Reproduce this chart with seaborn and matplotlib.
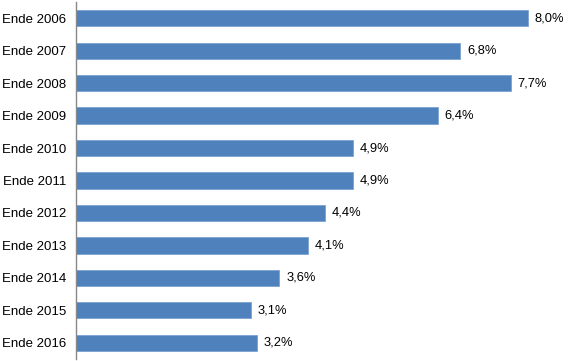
import matplotlib
matplotlib.use("Agg")
import matplotlib.pyplot as plt
import seaborn as sns
import pandas as pd

# Werte aus dem Diagramm
jahre = ["Ende 2006", "Ende 2007", "Ende 2008", "Ende 2009", "Ende 2010", "Ende 2011",
         "Ende 2012", "Ende 2013", "Ende 2014", "Ende 2015", "Ende 2016"]
werte = [8.0, 6.8, 7.7, 6.4, 4.9, 4.9, 4.4, 4.1, 3.6, 3.1, 3.2]

df = pd.DataFrame({"jahr": jahre, "wert": werte})

sns.set_theme(style="white")
plt.rcParams['font.family'] = ['Liberation Sans', 'DejaVu Sans']

fig = plt.figure(figsize=(5.7, 3.61), dpi=100)
ax = fig.add_axes([76 / 570, 2 / 361, 1 - 76 / 570, 1 - 4 / 361])

sns.barplot(data=df, x="wert", y="jahr", color="#4F81BD", saturation=1,
            width=0.5, ax=ax, edgecolor="#7DA3D3", linewidth=0.6)

for i, v in enumerate(werte):
    ax.text(v + 0.12, i, f"{v:.1f}%".replace(".", ","), va="center", ha="left",
            fontsize=9.3, color="black")

ax.set_xlim(0, (570 - 76) / 56.5)
ax.set_ylim(10.5, -0.5)
ax.set_xlabel("")
ax.set_ylabel("")
ax.set_xticks([])
ax.tick_params(axis="y", length=0, pad=7, labelsize=9.5, labelcolor="black")
for s in ["top", "right", "bottom"]:
    ax.spines[s].set_visible(False)
ax.spines["left"].set_color("#888888")
ax.spines["left"].set_linewidth(1.0)

fig.savefig("out.png", dpi=100)
